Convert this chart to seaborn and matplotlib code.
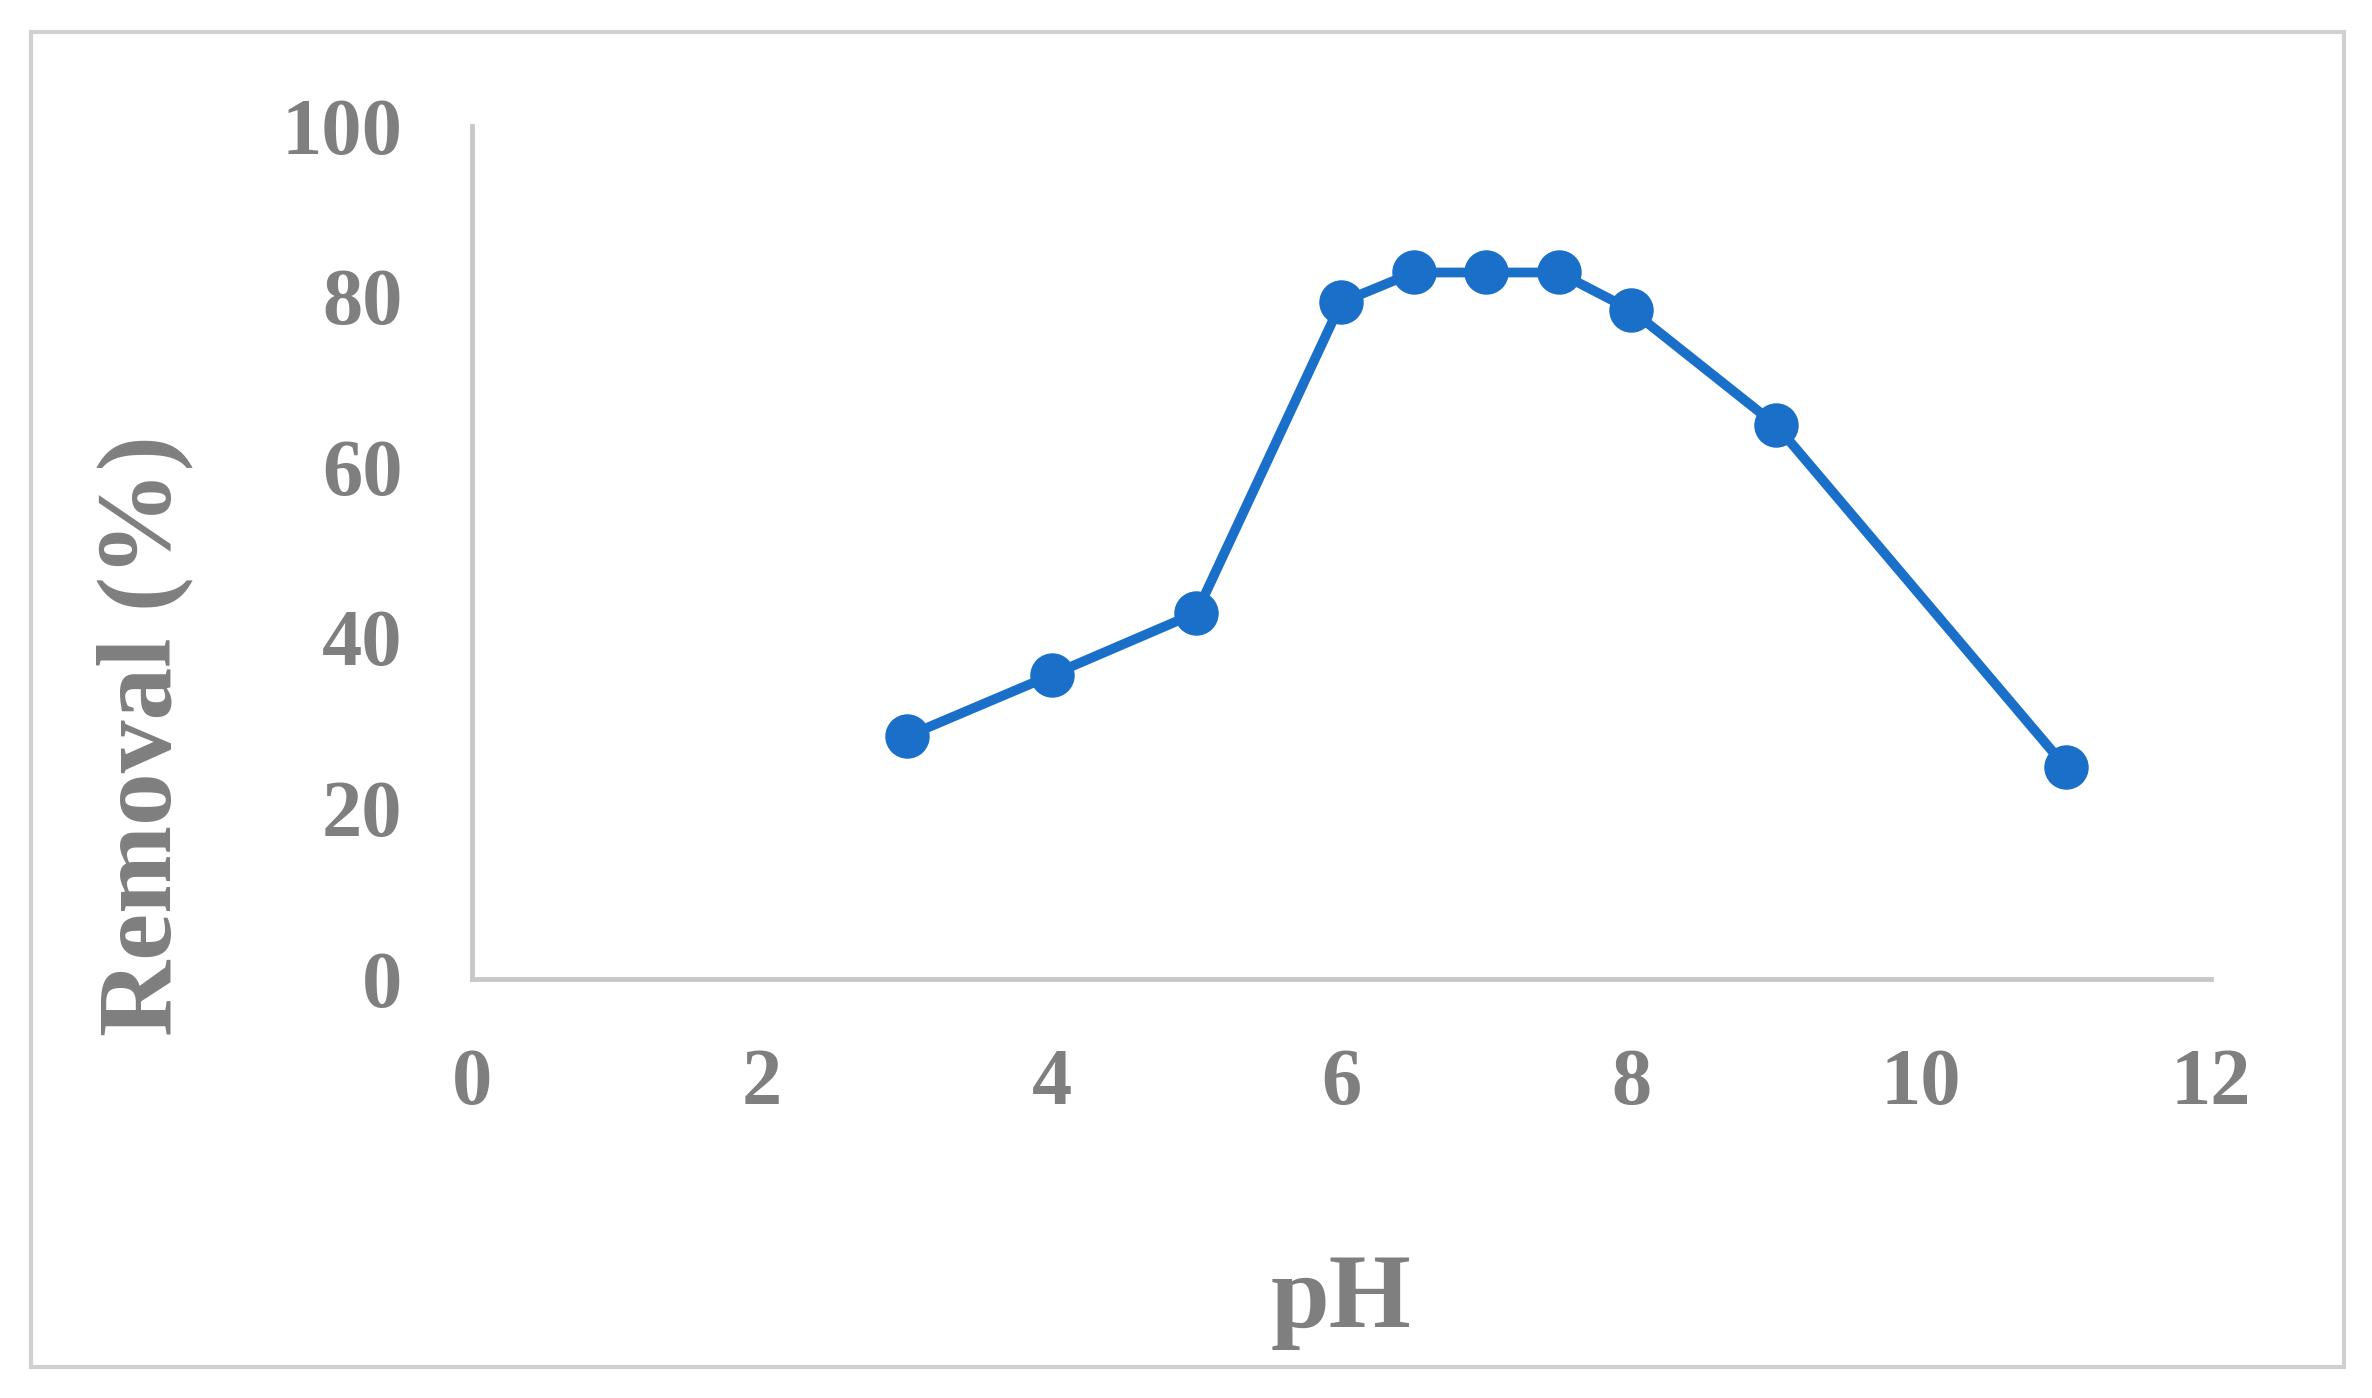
import matplotlib
matplotlib.use("Agg")
import matplotlib.pyplot as plt
import seaborn as sns
import pandas as pd
from matplotlib.patches import Rectangle

ph = [3, 4, 5, 6, 6.5, 7, 7.5, 8, 9, 11]
removal = [28.4, 35.6, 42.9, 79.3, 82.8, 82.8, 82.8, 78.4, 64.9, 24.8]
xticks = [0, 2, 4, 6, 8, 10, 12]
yticks = [0, 20, 40, 60, 80, 100]

sns.set_style("white")
plt.rcParams['font.family'] = ['Liberation Serif', 'Times New Roman', 'DejaVu Serif']

grey = "#7f7f7f"
blue = "#1a6fc9"

fig = plt.figure(figsize=(23.72, 13.98), dpi=100)
ax = fig.add_axes([0.199, 0.300, 0.733, 0.610])

df = pd.DataFrame({"pH": ph, "Removal": removal})
sns.lineplot(data=df, x="pH", y="Removal", ax=ax, color=blue, linewidth=7,
             marker="o", markersize=32, markeredgewidth=0, markerfacecolor=blue)

ax.set_xlim(0, 12)
ax.set_ylim(0, 100)
ax.set_xticks(xticks)
ax.set_yticks(yticks)
ax.tick_params(length=0, labelsize=58, labelcolor=grey, pad=50)
for lab in ax.get_xticklabels() + ax.get_yticklabels():
    lab.set_fontweight("bold")

for s in ["top", "right"]:
    ax.spines[s].set_visible(False)
for s in ["left", "bottom"]:
    ax.spines[s].set_color("#c8c8c8")
    ax.spines[s].set_linewidth(3.5)

ax.set_xlabel("pH", fontsize=76, fontweight="bold", color=grey, labelpad=95)
ax.set_ylabel("Removal (%)", fontsize=76, fontweight="bold", color=grey)
ax.yaxis.set_label_coords(-0.16, 0.285)

fig.patches.append(Rectangle((0.013, 0.022), 0.975, 0.955, transform=fig.transFigure,
                             fill=False, edgecolor="#d0d0d0", linewidth=3))

fig.savefig("out.png", dpi=100)
